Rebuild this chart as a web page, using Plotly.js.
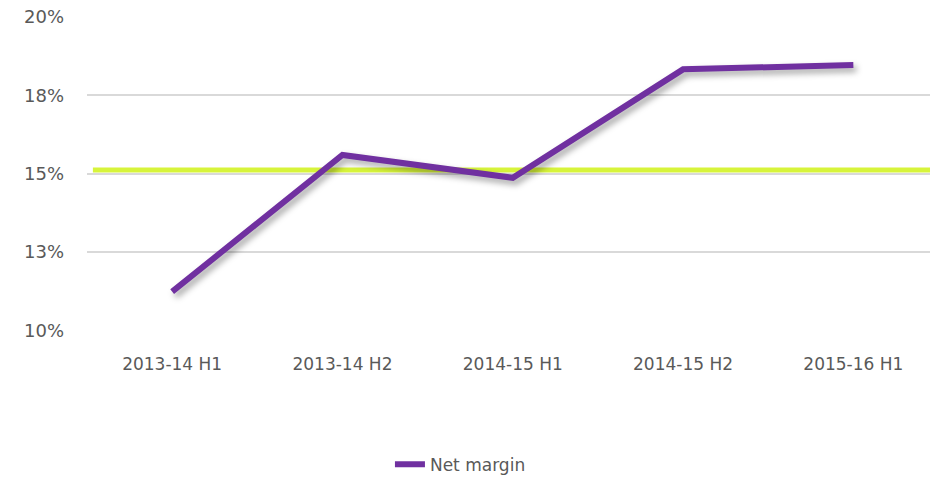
<!DOCTYPE html>
<html>
<head>
<meta charset="utf-8">
<script src="https://cdn.plot.ly/plotly-3.0.1.min.js"></script>
<style>
  html, body { margin: 0; padding: 0; background: #fff; overflow: hidden; }
  #chart { width: 930px; height: 477px; }
  .scatterlayer .trace path.js-line { filter: drop-shadow(3px 4px 3px rgba(0,0,0,0.35)); }
</style>
</head>
<body>
<div id="chart"></div>
<script>
const categories = ["2013-14 H1", "2013-14 H2", "2014-15 H1", "2014-15 H2", "2015-16 H1"];
const netMargin = [11.24, 15.6, 14.87, 18.33, 18.47];
const target = 15.12;
const yTickVals = [10, 12.5, 15, 17.5, 20];
const yTickText = ["10%", "13%", "15%", "18%", "20%"];

const xPos = categories.map((c, i) => i);

const traces = [
  {
    x: xPos,
    y: netMargin,
    type: "scatter",
    mode: "lines",
    name: "Net margin",
    line: { color: "#7030a0", width: 6 },
    hoverinfo: "x+y"
  }
];

const layout = {
  width: 930,
  height: 477,
  margin: { l: 87, r: 0, t: 17, b: 5, autoexpand: false },
  paper_bgcolor: "#ffffff",
  plot_bgcolor: "#ffffff",
  font: { family: "DejaVu Sans, sans-serif", color: "#595959", size: 17 },
  showlegend: true,
  legend: {
    orientation: "h",
    x: 0.443, xanchor: "center",
    y: 0.016, yanchor: "middle",
    font: { size: 17, color: "#595959" }
  },
  xaxis: {
    type: "linear",
    range: [-0.5, 4.45],
    tickvals: xPos,
    ticktext: categories,
    showgrid: false,
    zeroline: false,
    showline: false,
    ticks: "",
    ticklabelstandoff: 22,
    tickfont: { size: 17, color: "#595959" }
  },
  yaxis: {
    domain: [0.311, 1],
    range: [10, 20],
    tickvals: yTickVals,
    ticktext: yTickText,
    showgrid: true,
    gridcolor: "#d9d9d9",
    gridwidth: 2,
    zeroline: false,
    showline: false,
    ticks: "",
    ticklabelstandoff: 22,
    tickfont: { size: 18, color: "#595959" }
  },
  shapes: [
    {
      type: "line",
      xref: "paper", yref: "y",
      x0: 0.007, x1: 1,
      y0: target, y1: target,
      line: { color: "#d7f43b", width: 5 },
      layer: "below"
    }
  ]
};

Plotly.newPlot("chart", traces, layout, { displayModeBar: false, staticPlot: true });
</script>
</body>
</html>
